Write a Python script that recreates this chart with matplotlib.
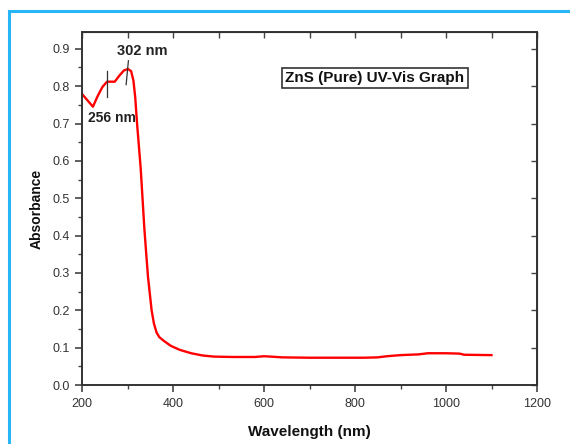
import matplotlib
matplotlib.use('Agg')
import matplotlib.pyplot as plt
from matplotlib.patches import Rectangle

# absorbance spectrum
wavelength = [200, 210, 224, 235, 245, 255, 265, 272, 282, 292, 301, 308,
              313, 317, 321, 325, 329, 333, 337, 341, 345, 349, 353, 358,
              364, 370, 380, 395, 415, 440, 465, 490, 530, 580, 600, 615,
              640, 700, 760, 820, 850, 870, 900, 940, 960, 1000, 1030, 1040,
              1100]
absorbance = [0.779, 0.765, 0.745, 0.775, 0.798, 0.812, 0.812, 0.812, 0.828,
              0.842, 0.846, 0.840, 0.815, 0.770, 0.700, 0.640, 0.580, 0.500,
              0.420, 0.354, 0.290, 0.245, 0.200, 0.165, 0.140, 0.128, 0.118,
              0.105, 0.094, 0.085, 0.079, 0.076, 0.075, 0.075, 0.077, 0.076,
              0.074, 0.073, 0.073, 0.073, 0.074, 0.077, 0.080, 0.082, 0.085,
              0.085, 0.084, 0.081, 0.080]

# peak markers (x top, x bottom, y top, y bottom)
marker_x_top = [256, 302]
marker_x_bot = [256, 297]
marker_y_top = [0.841, 0.868]
marker_y_bot = [0.770, 0.804]
peak_labels = ['256 nm', '302 nm']

xticks = [200, 400, 600, 800, 1000, 1200]
yticks = [0.0, 0.1, 0.2, 0.3, 0.4, 0.5, 0.6, 0.7, 0.8, 0.9]

plt.rcParams['font.family'] = ['Liberation Sans', 'DejaVu Sans']

fig = plt.figure(figsize=(5.7, 4.44), dpi=100)
W, H = 570, 444

# light blue frame round the figure (only left/top visible in the crop)
fig.patches.append(Rectangle((9 / W, -0.1), 1.2, 1 - 11 / H + 0.1,
                             transform=fig.transFigure, fill=False,
                             edgecolor='#29b6f6', linewidth=2.2))

ax = fig.add_axes([82 / W, 1 - 385 / H, (537 - 82) / W, (385 - 32) / H])
ax.plot(wavelength, absorbance, color='#ff0000', linewidth=1.7)

for xt, xb, yt, yb in zip(marker_x_top, marker_x_bot, marker_y_top, marker_y_bot):
    ax.plot([xt, xb], [yt, yb], color='#333333', linewidth=0.9)

ax.text(266, 0.716, peak_labels[0], fontsize=10, fontweight='bold',
        color='#222222', ha='center', va='center')
ax.text(333, 0.894, peak_labels[1], fontsize=10.5, fontweight='bold',
        color='#222222', ha='center', va='center')

ax.text(0.644, 0.87, 'ZnS (Pure) UV-Vis Graph', transform=ax.transAxes,
        fontsize=11, fontweight='bold', color='#111111',
        ha='center', va='center',
        bbox=dict(boxstyle='square,pad=0.2', facecolor='white',
                  edgecolor='#333333', linewidth=1.2))

ax.set_xlim(200, 1200)
ax.set_ylim(0, 0.945)
ax.set_xticks(xticks)
ax.set_yticks(yticks)
ax.set_xticklabels([str(t) for t in xticks])
ax.set_yticklabels([f'{t:.1f}' for t in yticks])
ax.set_xticks(range(300, 1200, 200), minor=True)
ax.set_yticks([0.05 + 0.1 * i for i in range(9)], minor=True)

tick_col = '#444444'
ax.tick_params(which='major', direction='out', length=5, width=1.2,
               color=tick_col, labelsize=9, labelcolor='#333333', pad=4)
ax.tick_params(which='minor', direction='out', length=3, width=1.0,
               color=tick_col)

for s in ax.spines.values():
    s.set_color('#333333')
    s.set_linewidth(1.4)

# mirrored inward ticks on top and right
top = ax.secondary_xaxis('top')
top.set_xticks(range(200, 1201, 100))
top.tick_params(direction='in', length=4, width=1.0, color=tick_col,
                labeltop=False)
right = ax.secondary_yaxis('right')
right.set_yticks(yticks)
right.tick_params(direction='in', length=4, width=1.0, color=tick_col,
                  labelright=False)

ax.set_xlabel('Wavelength (nm)', fontsize=11, fontweight='bold',
              color='#111111', labelpad=11)
ax.set_ylabel('Absorbance', fontsize=10, fontweight='bold',
              color='#111111', labelpad=6)

fig.savefig('out.png', dpi=100)
